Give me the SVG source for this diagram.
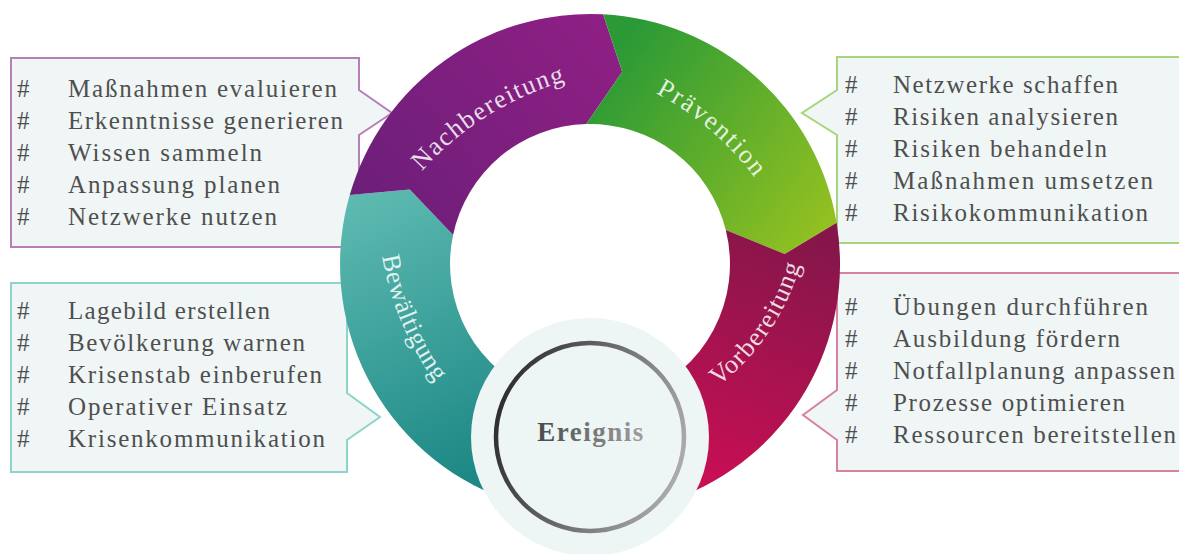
<svg xmlns="http://www.w3.org/2000/svg" xmlns:xlink="http://www.w3.org/1999/xlink" width="1179" height="554" viewBox="0 0 1179 554">
<style>
.box{fill:#f0f6f6;stroke-width:2}
.it{font-family:"Liberation Serif","Times New Roman",serif;font-size:25px;fill:#4f4f4f}
.seg{font-family:"Liberation Serif","Times New Roman",serif;font-size:26px;fill:#ffffff;fill-opacity:0.85}
</style>
<defs>
<linearGradient id="gTeal" gradientUnits="userSpaceOnUse" x1="350" y1="200" x2="480" y2="470"><stop offset="0" stop-color="#5dbab1"/><stop offset="1" stop-color="#1d8885"/></linearGradient>
<linearGradient id="gPurple" gradientUnits="userSpaceOnUse" x1="360" y1="230" x2="610" y2="30"><stop offset="0" stop-color="#6a1f78"/><stop offset="1" stop-color="#8f1f84"/></linearGradient>
<linearGradient id="gGreen" gradientUnits="userSpaceOnUse" x1="610" y1="60" x2="835" y2="230"><stop offset="0" stop-color="#2b9a36"/><stop offset="1" stop-color="#96c220"/></linearGradient>
<linearGradient id="gMag" gradientUnits="userSpaceOnUse" x1="790" y1="235" x2="700" y2="470"><stop offset="0" stop-color="#86164a"/><stop offset="1" stop-color="#c60f54"/></linearGradient>
<linearGradient id="gRing" gradientUnits="userSpaceOnUse" x1="500" y1="400" x2="690" y2="460"><stop offset="0" stop-color="#2e2e2e"/><stop offset="1" stop-color="#b0b0b0"/></linearGradient>
<linearGradient id="gTxt" gradientUnits="userSpaceOnUse" x1="537" y1="0" x2="645" y2="0"><stop offset="0" stop-color="#4a4a4a"/><stop offset="1" stop-color="#a0a0a0"/></linearGradient>
<path id="pNach" d="M 402.1 196.4 A 300 300 0 0 1 597.6 74.2"/>
<path id="pPrae" d="M 625.5 79.0 A 300 300 0 0 1 773.9 206.8"/>
<path id="pBew" d="M 378.3 223.4 A 300 300 0 0 0 456.6 408.3"/>
<path id="pVor" d="M 682.9 408.5 A 234 234 0 0 0 808.2 222.8"/>
</defs>

<g id="box-nachbereitung">
<path class="box" stroke="#b77fb8" d="M 11 58 H 359 V 90 L 392 113 L 359 135 V 247 H 11 Z"/>
<text class="it" x="17" y="96.5">#</text><text class="it" x="68" y="96.5" textLength="269" lengthAdjust="spacing">Maßnahmen evaluieren</text>
<text class="it" x="17" y="128.5">#</text><text class="it" x="68" y="128.5" textLength="275" lengthAdjust="spacing">Erkenntnisse generieren</text>
<text class="it" x="17" y="160.5">#</text><text class="it" x="68" y="160.5" textLength="194" lengthAdjust="spacing">Wissen sammeln</text>
<text class="it" x="17" y="192.5">#</text><text class="it" x="68" y="192.5" textLength="212" lengthAdjust="spacing">Anpassung planen</text>
<text class="it" x="17" y="224.5">#</text><text class="it" x="68" y="224.5" textLength="209" lengthAdjust="spacing">Netzwerke nutzen</text>
</g>

<g id="box-bewaeltigung">
<path class="box" stroke="#8fd3cc" d="M 11 283 H 347 V 393 L 380 417 L 347 440 V 472 H 11 Z"/>
<text class="it" x="17" y="319">#</text><text class="it" x="68" y="319" textLength="202" lengthAdjust="spacing">Lagebild erstellen</text>
<text class="it" x="17" y="351">#</text><text class="it" x="68" y="351" textLength="237" lengthAdjust="spacing">Bevölkerung warnen</text>
<text class="it" x="17" y="383">#</text><text class="it" x="68" y="383" textLength="254" lengthAdjust="spacing">Krisenstab einberufen</text>
<text class="it" x="17" y="415">#</text><text class="it" x="68" y="415" textLength="219" lengthAdjust="spacing">Operativer Einsatz</text>
<text class="it" x="17" y="447">#</text><text class="it" x="68" y="447" textLength="257" lengthAdjust="spacing">Krisenkommunikation</text>
</g>

<g id="box-praevention">
<path class="box" stroke="#a6d67c" d="M 837 57 H 1190 V 243 H 837 V 135 L 802 113 L 837 90 Z"/>
<text class="it" x="845" y="93">#</text><text class="it" x="893" y="93" textLength="225" lengthAdjust="spacing">Netzwerke schaffen</text>
<text class="it" x="845" y="125">#</text><text class="it" x="893" y="125" textLength="225" lengthAdjust="spacing">Risiken analysieren</text>
<text class="it" x="845" y="157">#</text><text class="it" x="893" y="157" textLength="214" lengthAdjust="spacing">Risiken behandeln</text>
<text class="it" x="845" y="189">#</text><text class="it" x="893" y="189" textLength="260" lengthAdjust="spacing">Maßnahmen umsetzen</text>
<text class="it" x="845" y="221">#</text><text class="it" x="893" y="221" textLength="255" lengthAdjust="spacing">Risikokommunikation</text>
</g>

<g id="box-vorbereitung">
<path class="box" stroke="#d9829f" d="M 837 273 H 1190 V 471 H 837 V 440 L 803 415 L 837 390 Z"/>
<text class="it" x="845" y="315">#</text><text class="it" x="893" y="315" textLength="255" lengthAdjust="spacing">Übungen durchführen</text>
<text class="it" x="845" y="347">#</text><text class="it" x="893" y="347" textLength="227" lengthAdjust="spacing">Ausbildung fördern</text>
<text class="it" x="845" y="379">#</text><text class="it" x="893" y="379" textLength="282" lengthAdjust="spacing">Notfallplanung anpassen</text>
<text class="it" x="845" y="411">#</text><text class="it" x="893" y="411" textLength="232" lengthAdjust="spacing">Prozesse optimieren</text>
<text class="it" x="845" y="443">#</text><text class="it" x="893" y="443" textLength="283" lengthAdjust="spacing">Ressourcen bereitstellen</text>
</g>

<g id="seg-bewaeltigung">
<path fill="url(#gTeal)" d="M 504.5 498.9 A 250 250 0 0 1 349.7 195.1 L 409.8 189.4 L 453.1 234.9 A 140 140 0 0 0 542.1 395.6 Z"/>
<text class="seg" letter-spacing="0.5"><textPath xlink:href="#pBew" href="#pBew" startOffset="50%" text-anchor="middle">Bewältigung</textPath></text>
</g>
<g id="seg-nachbereitung">
<path fill="url(#gPurple)" d="M 349.7 195.1 A 250 250 0 0 1 603.1 14.3 L 622.2 71.7 L 586.3 124.0 A 140 140 0 0 0 453.1 234.9 L 409.8 189.4 Z"/>
<text class="seg" letter-spacing="1.5"><textPath xlink:href="#pNach" href="#pNach" startOffset="50%" text-anchor="middle">Nachbereitung</textPath></text>
</g>
<g id="seg-praevention">
<path fill="url(#gGreen)" d="M 603.1 14.3 A 250 250 0 0 1 836.6 222.7 L 784.7 254.0 L 725.8 230.1 A 140 140 0 0 0 586.3 124.0 L 622.2 71.7 Z"/>
<text class="seg" letter-spacing="2"><textPath xlink:href="#pPrae" href="#pPrae" startOffset="50%" text-anchor="middle">Prävention</textPath></text>
</g>
<g id="seg-vorbereitung">
<path fill="url(#gMag)" d="M 836.6 222.7 A 250 250 0 0 1 675.5 498.9 L 637.9 395.6 A 140 140 0 0 0 725.8 230.1 L 784.7 254.0 Z"/>
<text class="seg" letter-spacing="1.2"><textPath xlink:href="#pVor" href="#pVor" startOffset="50%" text-anchor="middle">Vorbereitung</textPath></text>
</g>

<g id="ereignis">
<circle cx="590" cy="437" r="119" fill="#eef5f5"/>
<circle cx="590" cy="437" r="94" fill="none" stroke="url(#gRing)" stroke-width="4.5"/>
<text x="591" y="441" text-anchor="middle" font-family="Liberation Serif, serif" font-size="27" font-weight="bold" letter-spacing="1.5" fill="url(#gTxt)">Ereignis</text>
</g>
<g id="connectors"/>
</svg>
